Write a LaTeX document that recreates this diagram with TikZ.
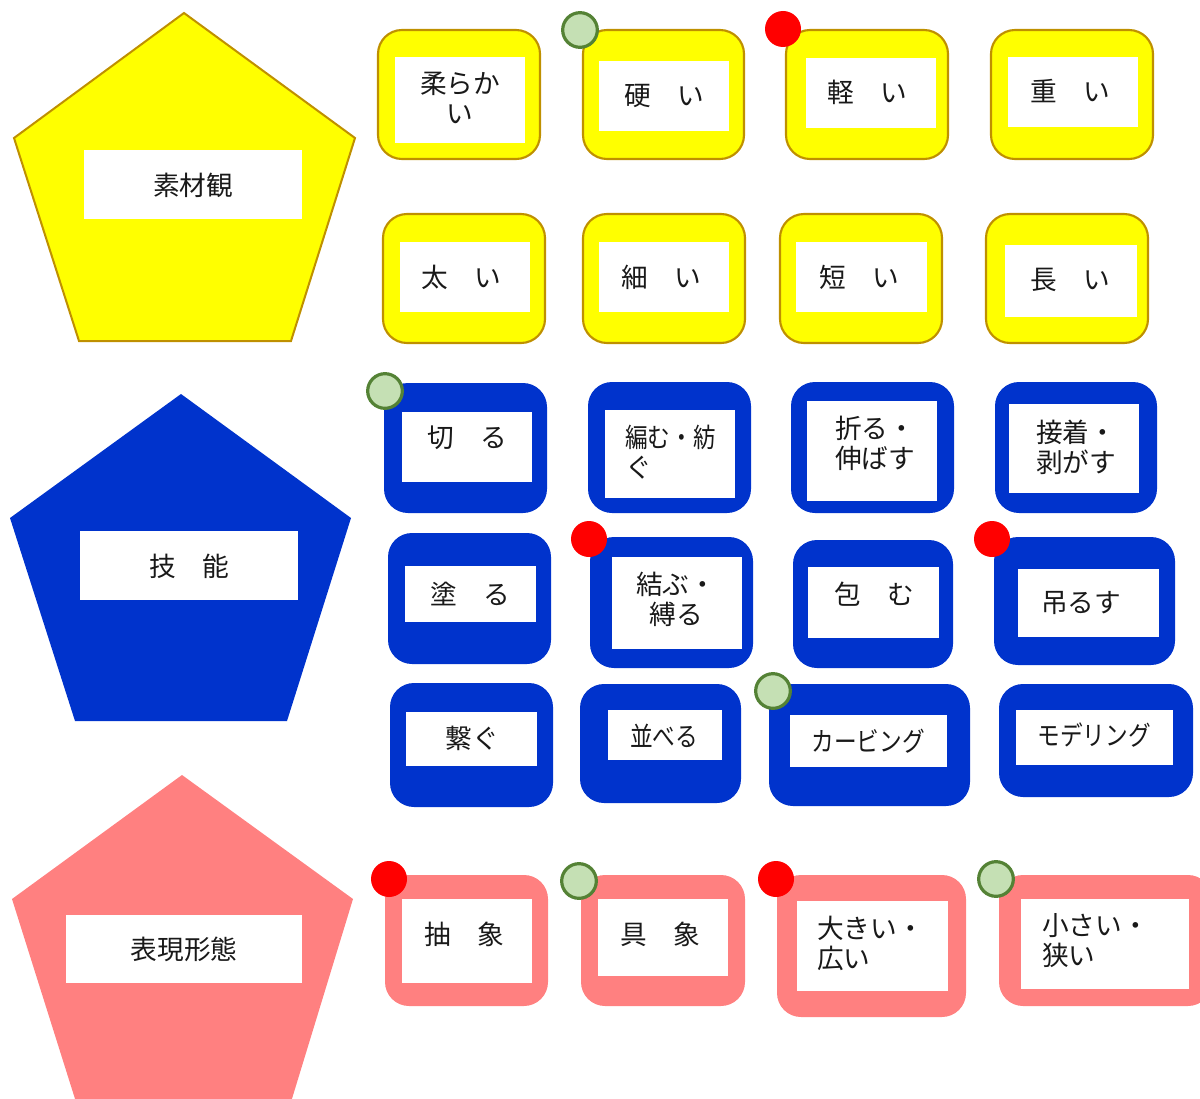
\documentclass[tikz,border=0pt]{standalone}
\usepackage{fontspec}
\usepackage{graphicx}
\newfontfamily\jp{Noto Sans CJK JP}
\definecolor{ygold}{RGB}{191,144,0}
\definecolor{ylw}{RGB}{255,255,0}
\definecolor{bblue}{RGB}{0,51,204}
\definecolor{ppink}{RGB}{255,128,128}
\definecolor{lgreen}{RGB}{197,224,180}
\definecolor{dgreen}{RGB}{84,130,53}
\definecolor{rdot}{RGB}{255,0,0}
\definecolor{txt}{RGB}{25,25,25}
\newcommand\mkbox[6]{\node[#1, minimum width={(#5-#3)*0.75pt}, minimum height={(#6-#4)*0.75pt}] (#2) at ({(#3+#5)/2},{(#4+#6)/2}) {};}
\newcommand\cond[1]{\scalebox{0.85}[1]{#1}}
\begin{document}
\begin{tikzpicture}[x=0.75pt,y=-0.75pt,
  every node/.style={inner sep=0pt, outer sep=0pt},
  ycard/.style={rectangle, draw=ygold, line width=1.6pt, fill=ylw, rounded corners=18pt},
  bcard/.style={rectangle, fill=bblue, rounded corners=18pt},
  pcard/.style={rectangle, fill=ppink, rounded corners=18pt},
  wbox/.style={rectangle, fill=white},
  lbl/.style={text=txt, font={\jp\fontsize{20}{22.5}\selectfont}},
  gdot/.style={circle, fill=lgreen, draw=dgreen, line width=2.4pt, minimum size=26pt},
  rdotst/.style={circle, fill=rdot, minimum size=27pt}]
\useasboundingbox (0,0) rectangle (1200,1099);
\clip (0,0) rectangle (1200,1099);
% pentagons
\filldraw[fill=ylw, draw=ygold, line width=1.5pt] (184,13) -- (355,138) -- (291,341) -- (79,341) -- (14,138) -- cycle;
\fill[bblue] (181,394) -- (351,518) -- (287,721) -- (75,721) -- (10,518) -- cycle;
\fill[ppink] (182,775) -- (353,899) -- (291,1102) -- (76,1102) -- (12,899) -- cycle;
\mkbox{wbox}{ph1}{84}{150}{302}{219}
\mkbox{wbox}{ph2}{80}{531}{298}{600}
\mkbox{wbox}{ph3}{66}{915}{302}{983}
\node[lbl] (pl1) at (193,185) {素材観};
\node[lbl] (pl2) at (189,566) {技　能};
\node[lbl] (pl3) at (184,949) {表現形態};
% yellow cards
\mkbox{ycard}{y1}{378}{30}{540}{159}
\mkbox{ycard}{y2}{583}{30}{744}{159}
\mkbox{ycard}{y3}{786}{30}{948}{159}
\mkbox{ycard}{y4}{991}{30}{1153}{159}
\mkbox{ycard}{y5}{383}{214}{545}{343}
\mkbox{ycard}{y6}{583}{214}{745}{343}
\mkbox{ycard}{y7}{780}{214}{942}{343}
\mkbox{ycard}{y8}{986}{214}{1148}{343}
\mkbox{wbox}{yw1}{395}{57}{525}{143}
\mkbox{wbox}{yw2}{599}{61}{729}{131}
\mkbox{wbox}{yw3}{806}{58}{936}{128}
\mkbox{wbox}{yw4}{1008}{57}{1138}{127}
\mkbox{wbox}{yw5}{400}{242}{530}{312}
\mkbox{wbox}{yw6}{599}{242}{729}{312}
\mkbox{wbox}{yw7}{796}{242}{927}{312}
\mkbox{wbox}{yw8}{1005}{245}{1137}{317}
\node[lbl, align=center] (yt1) at (460,98) {柔らか\\い};
\node[lbl] (yt2) at (664,96) {硬　い};
\node[lbl] (yt3) at (867,92) {軽　い};
\node[lbl] (yt4) at (1070,91) {重　い};
\node[lbl] (yt5) at (461,277) {太　い};
\node[lbl] (yt6) at (661,277) {細　い};
\node[lbl] (yt7) at (859,277) {短　い};
\node[lbl] (yt8) at (1070,280) {長　い};
% blue cards
\mkbox{bcard}{b1}{384}{383}{547}{513}
\mkbox{bcard}{b2}{588}{382}{751}{513}
\mkbox{bcard}{b3}{791}{382}{954}{513}
\mkbox{bcard}{b4}{995}{382}{1157}{513}
\mkbox{bcard}{b5}{388}{533}{551}{664}
\mkbox{bcard}{b6}{590}{537}{753}{668}
\mkbox{bcard}{b7}{793}{540}{953}{668}
\mkbox{bcard}{b8}{994}{537}{1175}{665}
\mkbox{bcard}{b9}{390}{683}{553}{807}
\mkbox{bcard}{b10}{580}{684}{741}{803}
\mkbox{bcard}{b11}{769}{684}{970}{806}
\mkbox{bcard}{b12}{999}{684}{1193}{797}
\mkbox{wbox}{bw1}{402}{412}{532}{482}
\mkbox{wbox}{bw2}{605}{410}{735}{498}
\mkbox{wbox}{bw3}{807}{401}{937}{501}
\mkbox{wbox}{bw4}{1009}{404}{1139}{493}
\mkbox{wbox}{bw5}{405}{566}{536}{622}
\mkbox{wbox}{bw6}{612}{557}{742}{649}
\mkbox{wbox}{bw7}{808}{567}{939}{638}
\mkbox{wbox}{bw8}{1018}{569}{1159}{637}
\mkbox{wbox}{bw9}{406}{712}{537}{766}
\mkbox{wbox}{bw10}{608}{710}{722}{760}
\mkbox{wbox}{bw11}{790}{715}{947}{767}
\mkbox{wbox}{bw12}{1016}{710}{1173}{765}
\node[lbl] (bt1) at (467,438) {切　る};
\node[lbl, align=left, anchor=west] (bt2) at (625,452) {\cond{編む・紡}\\ぐ};
\node[lbl, align=left, anchor=west] (bt3) at (835,443) {折る・\\伸ばす};
\node[lbl, align=left, anchor=west] (bt4) at (1036,447) {接着・\\剥がす};
\node[lbl] (bt5) at (470,594) {塗　る};
\node[lbl, align=center] (bt6) at (676,599) {結ぶ・\\縛る};
\node[lbl] (bt7) at (874,594) {包　む};
\node[lbl] (bt8) at (1081,603) {吊るす};
\node[lbl] (bt9) at (472,738) {繋ぐ};
\node[lbl] (bt10) at (664,736) {\cond{並べる}};
\node[lbl] (bt11) at (868,741) {\cond{カービング}};
\node[lbl] (bt12) at (1094,735) {\cond{モデリング}};
% pink cards
\mkbox{pcard}{p1}{385}{875}{548}{1006}
\mkbox{pcard}{p2}{581}{875}{745}{1006}
\mkbox{pcard}{p3}{777}{875}{966}{1017}
\mkbox{pcard}{p4}{999}{875}{1212}{1006}
\mkbox{wbox}{pw1}{402}{899}{532}{983}
\mkbox{wbox}{pw2}{598}{899}{728}{976}
\mkbox{wbox}{pw3}{797}{901}{948}{991}
\mkbox{wbox}{pw4}{1021}{899}{1189}{989}
\node[lbl] (pt1) at (464,934) {抽　象};
\node[lbl] (pt2) at (660,934) {具　象};
\node[lbl, align=left, anchor=west] (pt3) at (817,943) {大きい・\\広い};
\node[lbl, align=left, anchor=west] (pt4) at (1042,941) {小さい・\\狭い};
% dots
\node[gdot] (g1) at (580,30) {};
\node[rdotst] (r1) at (783,29) {};
\node[gdot] (g2) at (385,391) {};
\node[rdotst] (r2) at (589,539) {};
\node[rdotst] (r3) at (992,539) {};
\node[gdot] (g3) at (773,691) {};
\node[rdotst] (r4) at (389,879) {};
\node[gdot] (g4) at (579,881) {};
\node[rdotst] (r5) at (776,879) {};
\node[gdot] (g5) at (996,879) {};
\end{tikzpicture}
\end{document}
